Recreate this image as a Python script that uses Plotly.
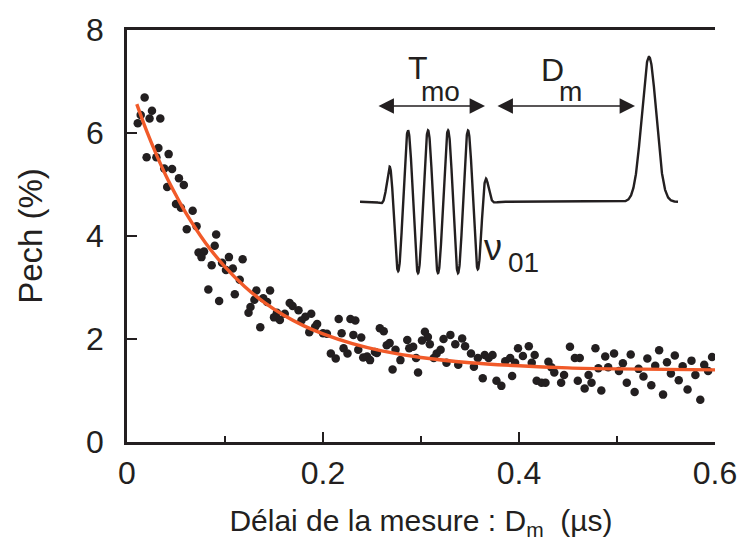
import numpy as np
import plotly.graph_objects as go

# ---------------- data ----------------
delay_us = [0.011, 0.014, 0.018, 0.023, 0.0255, 0.034, 0.032, 0.020, 0.030, 0.0425,
            0.038, 0.046, 0.053, 0.058, 0.041, 0.050, 0.055, 0.067, 0.061, 0.071,
            0.091, 0.0895, 0.073, 0.0786, 0.076, 0.0864, 0.097, 0.104, 0.118, 0.101,
            0.108, 0.115, 0.083, 0.094, 0.110, 0.132, 0.146, 0.130, 0.139, 0.143,
            0.126, 0.124, 0.153, 0.150, 0.156, 0.161, 0.166, 0.136, 0.169, 0.175,
            0.182, 0.178, 0.188, 0.186, 0.194, 0.192, 0.200, 0.204, 0.216, 0.228,
            0.233, 0.219, 0.231, 0.239, 0.208, 0.213, 0.221, 0.225, 0.236, 0.241,
            0.245, 0.248, 0.253, 0.258, 0.262, 0.255, 0.265, 0.268, 0.274, 0.279,
            0.271, 0.286, 0.292, 0.288, 0.295, 0.297, 0.304, 0.307, 0.301, 0.309,
            0.313, 0.316, 0.320, 0.323, 0.330, 0.335, 0.342, 0.345, 0.326, 0.338,
            0.351, 0.358, 0.365, 0.354, 0.363, 0.369, 0.373, 0.377, 0.382, 0.386,
            0.391, 0.396, 0.393, 0.399, 0.404, 0.410, 0.413, 0.416, 0.418, 0.423,
            0.427, 0.430, 0.433, 0.436, 0.443, 0.446, 0.452, 0.457, 0.462, 0.460,
            0.467, 0.471, 0.474, 0.478, 0.481, 0.484, 0.488, 0.491, 0.497, 0.502,
            0.506, 0.510, 0.514, 0.518, 0.522, 0.527, 0.531, 0.535, 0.539, 0.543,
            0.547, 0.551, 0.555, 0.559, 0.563, 0.567, 0.572, 0.576, 0.580, 0.585,
            0.589, 0.593, 0.597]
pech_pct = [6.19, 6.35, 6.69, 6.28, 6.43, 6.28, 5.71, 5.53, 5.53, 5.59,
            5.31, 5.30, 5.12, 4.99, 4.95, 4.62, 4.55, 4.49, 4.13, 4.19,
            4.03, 3.81, 3.68, 3.70, 3.59, 3.43, 3.48, 3.59, 3.55, 3.34,
            3.37, 3.15, 2.96, 2.74, 2.87, 2.94, 2.94, 2.76, 2.79, 2.72,
            2.62, 2.51, 2.51, 2.42, 2.37, 2.49, 2.70, 2.23, 2.64, 2.56,
            2.43, 2.36, 2.49, 2.13, 2.29, 2.24, 2.11, 2.10, 2.39, 2.39,
            2.36, 2.11, 2.08, 2.03, 1.72, 1.62, 1.82, 1.72, 1.79, 1.64,
            1.66, 1.59, 1.75, 2.21, 2.15, 1.73, 1.88, 1.92, 1.79, 1.59,
            1.41, 1.98, 1.85, 1.82, 1.63, 1.35, 2.14, 2.04, 1.97, 1.90,
            1.63, 1.72, 1.79, 2.00, 2.08, 1.90, 2.01, 1.86, 1.54, 1.50,
            1.72, 1.63, 1.69, 1.46, 1.24, 1.63, 1.69, 1.19, 1.09, 1.57,
            1.63, 1.54, 1.28, 1.82, 1.67, 1.86, 1.54, 1.69, 1.19, 1.15,
            1.15, 1.56, 1.45, 1.35, 1.15, 1.30, 1.85, 1.63, 1.63, 1.19,
            1.04, 1.30, 1.15, 1.82, 1.43, 1.00, 1.66, 1.45, 1.72, 1.38,
            1.53, 1.15, 1.70, 0.97, 1.42, 1.27, 1.62, 1.10, 1.48, 1.78,
            0.92, 1.55, 1.33, 1.68, 1.20, 1.47, 1.02, 1.58, 1.30, 0.82,
            1.50, 1.38, 1.65]

# fitted curve
fit_x = [0.01, 0.02, 0.03, 0.04, 0.05, 0.06, 0.08, 0.10, 0.12, 0.14, 0.16,
         0.18, 0.20, 0.23, 0.26, 0.30, 0.35, 0.40, 0.45, 0.50, 0.55, 0.60]
fit_y = [6.56, 6.04, 5.58, 5.16, 4.79, 4.45, 3.87, 3.40, 3.02, 2.71, 2.46,
         2.26, 2.10, 1.91, 1.77, 1.64, 1.54, 1.48, 1.44, 1.42, 1.41, 1.40]

x_ticks = [0, 0.2, 0.4, 0.6]
x_tick_text = ["0", "0.2", "0.4", "0.6"]
y_ticks = [0, 2, 4, 6, 8]
y_tick_text = ["0", "2", "4", "6", "8"]

# ---------------- inset schematic parameters (pulse sequence) ----------------
carrier_period = 1.0
carrier_phase = 2.4
pulse_rise, pulse_fall, edge_width = 1.45, 6.25, 0.25
pulse_amp = 1.02
readout_center, readout_sigma, readout_amp = 14.45, 0.36, 2.07
sketch_end = 15.9

INK = "#231f20"
ORANGE = "#f15a29"
FONT = "Liberation Sans, Arial, Helvetica, sans-serif"

fig = go.Figure()

fig.add_trace(go.Scatter(
    x=delay_us, y=pech_pct, mode="markers",
    marker=dict(size=8.5, color=INK, line=dict(width=0)),
    showlegend=False, hoverinfo="x+y"))

fig.add_trace(go.Scatter(
    x=fit_x, y=fit_y, mode="lines", line=dict(color=ORANGE, width=3.4, shape="spline"),
    showlegend=False))

# inset waveform
t = np.linspace(0, sketch_end, 1600)
env = 0.5 * (np.tanh((t - pulse_rise) / edge_width) - np.tanh((t - pulse_fall) / edge_width))
wave = pulse_amp * env * np.cos(2 * np.pi * (t - carrier_phase) / carrier_period)
wave += readout_amp * np.exp(-0.5 * ((t - readout_center) / readout_sigma) ** 2)
fig.add_trace(go.Scatter(x=t, y=wave, mode="lines", line=dict(color=INK, width=2.4),
                         xaxis="x2", yaxis="y2", showlegend=False, hoverinfo="skip"))

arrow_y = 1.367
annos = []
for (x0, x1) in [(0.85, 6.25), (6.8, 13.75)]:
    annos.append(dict(x=x1, y=arrow_y, ax=x0, ay=arrow_y, xref="x2", yref="y2",
                      axref="x2", ayref="y2", text="", showarrow=True,
                      arrowhead=2, startarrowhead=2, arrowside="end+start",
                      arrowsize=2.2, startarrowsize=2.2, arrowwidth=1.4,
                      arrowcolor=INK, standoff=0, startstandoff=0))

def label(txt, x, y, size):
    return dict(x=x, y=y, xref="x2", yref="y2", text=txt, showarrow=False,
                font=dict(family=FONT, size=size, color=INK),
                xanchor="center", yanchor="middle")

annos += [
    label("T", 2.9, 1.91, 32),
    label("mo", 4.0, 1.57, 28),
    label("D", 9.6, 1.88, 32),
    label("m", 10.5, 1.58, 28),
    label("ν", 6.65, -0.66, 36),
    label("01", 8.15, -0.87, 28),
]

axis_common = dict(showline=True, linecolor=INK, linewidth=2.6, ticks="inside",
                   tickcolor=INK, tickwidth=2.2, showgrid=False, zeroline=False,
                   tickfont=dict(family=FONT, size=32, color=INK))

# page offset of 8 px (body margin) is compensated in the margins
fig.update_layout(
    width=747, height=554,
    margin=dict(l=119, r=40, t=22, b=120),
    paper_bgcolor="white", plot_bgcolor="white",
    font=dict(family=FONT, color=INK),
    xaxis=dict(range=[0, 0.6], tickvals=x_ticks, ticktext=x_tick_text, ticklen=10,
               mirror=True, ticklabelstandoff=1,
               minor=dict(ticks="inside", dtick=0.1, ticklen=6, tickwidth=2.2, tickcolor=INK),
               title=dict(text="Délai de la mesure : D<sub>m</sub>  (µs)",
                          font=dict(family=FONT, size=30, color=INK), standoff=20),
               automargin=False, **axis_common),
    yaxis=dict(range=[0, 8], tickvals=y_ticks, ticktext=y_tick_text, ticklen=10,
               ticklabelstandoff=14,
               title=dict(text="Pech (%)", font=dict(family=FONT, size=33, color=INK),
                          standoff=34),
               automargin=False, **axis_common),
    xaxis2=dict(domain=[0.3963, 0.9405], range=[0, 16], visible=False, anchor="y2"),
    yaxis2=dict(domain=[0.3689, 0.9757], range=[-1.261, 2.31], visible=False, anchor="x2"),
    annotations=annos,
)

fig.write_html("out.html")
